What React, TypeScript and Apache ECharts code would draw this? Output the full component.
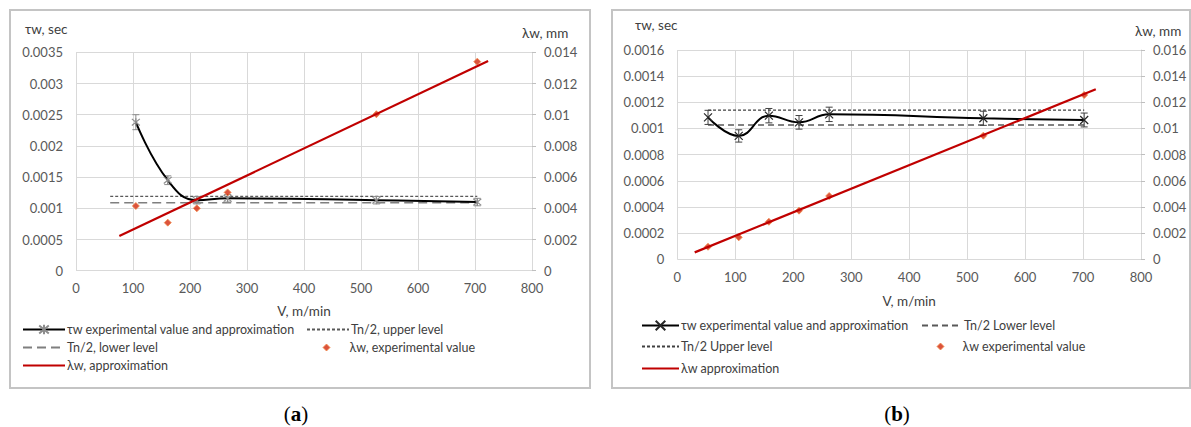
import React, { useEffect, useRef } from "react";
import * as echarts from "echarts";

const FONT = "Lato";

// ---------- Panel (a) data ----------
const aTauV = [105, 161, 212, 266, 527, 704];
const aTau = [0.00238, 0.00145, 0.00113, 0.00116, 0.00113, 0.0011];
const aTauErr = [0.00012, 0.00007, 0.00006, 0.00006, 0.00006, 0.00006];
const aLevelV = [60, 704];
const aUpper = [0.00119, 0.00119];
const aLower = [0.00109, 0.00109];
const aLamV = [105, 161, 212, 266, 527, 704];
const aLam = [0.00415, 0.00308, 0.004, 0.00502, 0.01003, 0.0134];
const aFitV = [76, 723];
const aFit = [0.00222, 0.01344];

// ---------- Panel (b) data ----------
const bTauV = [53, 106, 158, 210, 262, 528, 702];
const bTau = [0.001085, 0.000943, 0.001098, 0.001047, 0.001108, 0.001078, 0.001065];
const bTauErr = [0.000054, 0.000047, 0.000055, 0.000052, 0.000055, 0.000054, 0.000053];
const bLevelV = [53, 702];
const bUpper = [0.001141, 0.001141];
const bLower = [0.001027, 0.001027];
const bLamV = [53, 106, 158, 210, 262, 528, 702];
const bLam = [0.00096, 0.00168, 0.00287, 0.00372, 0.00484, 0.00945, 0.01256];
const bFitV = [30, 722];
const bFit = [0.00053, 0.013];

const zip = (xs: number[], ys: number[]) => xs.map((x, i) => [x, ys[i]]);
const fmt = (v: number) => (v === 0 ? "0" : String(+v.toFixed(6)));

const STAR = "path://M0,0L10,10M10,0L0,10M5,-1L5,11";
const CROSS = "path://M0,0L10,10M10,0L0,10";
const CLEAR = "rgba(0,0,0,0)";
const DIAMOND_FILL = "#d2280c";
const DIAMOND_BORDER = "#f28a4a";

function errSeries(vs: number[], ys: number[], errs: number[], color: string, cap: number) {
  return {
    type: "custom",
    name: "error",
    silent: true,
    z: 3,
    data: vs.map((v, i) => [v, ys[i] - errs[i], ys[i] + errs[i]]),
    encode: { x: 0, y: [1, 2] },
    renderItem: (params: any, api: any) => {
      const lo = api.coord([api.value(0), api.value(1)]);
      const hi = api.coord([api.value(0), api.value(2)]);
      const st = { stroke: color, lineWidth: 1 };
      return {
        type: "group",
        children: [
          { type: "line", shape: { x1: lo[0], y1: lo[1], x2: hi[0], y2: hi[1] }, style: st },
          { type: "line", shape: { x1: lo[0] - cap, y1: lo[1], x2: lo[0] + cap, y2: lo[1] }, style: st },
          { type: "line", shape: { x1: hi[0] - cap, y1: hi[1], x2: hi[0] + cap, y2: hi[1] }, style: st },
        ],
      };
    },
  };
}

const LEG_TEXT = { fontFamily: FONT, fontSize: 12.5, color: "#404040" };

function legendItem(name: string, left: number, cy: number, w: number) {
  return {
    data: [name],
    left,
    top: cy - 8,
    padding: 0,
    itemWidth: w,
    itemHeight: 12,
    itemGap: 0,
    selectedMode: false,
    textStyle: { ...LEG_TEXT, padding: [0, 0, 0, -3] },
  };
}

// diamond legend: small centred marker, text pushed to column text position
function legendDiamond(name: string, cx: number, textX: number, cy: number) {
  const s = 7;
  const left = cx - s / 2;
  return {
    data: [
      {
        name,
        icon: "diamond",
        itemStyle: { color: DIAMOND_FILL, borderColor: DIAMOND_BORDER, borderWidth: 1 },
      },
    ],
    left,
    top: cy - 8,
    padding: 0,
    itemWidth: s,
    itemHeight: s,
    itemGap: 0,
    selectedMode: false,
    textStyle: { ...LEG_TEXT, padding: [0, 0, 0, textX - (left + s + 5)] },
  };
}

type Cfg = {
  grid: any;
  yMax: number;
  yInt: number;
  y2Max: number;
  y2Int: number;
  nameGap: number;
  names: string[];
  tauV: number[];
  tau: number[];
  tauErr: number[];
  marker: string;
  markerColor: string;
  errColor: string;
  levelV: number[];
  upper: number[];
  lower: number[];
  upperStyle: any;
  lowerStyle: any;
  lamV: number[];
  lam: number[];
  fitV: number[];
  fit: number[];
  legends: any[];
  border: number[];
  yName1: number[];
  yName2: number[];
  label: string;
  labelX: number;
};

function makeOption(c: Cfg) {
  const axisLabel = { color: "#595959", fontSize: 13, fontFamily: FONT };
  return {
    animation: false,
    backgroundColor: "#ffffff",
    textStyle: { fontFamily: FONT },
    grid: { ...c.grid, containLabel: false, outerBoundsMode: "none" },
    xAxis: {
      type: "value",
      min: 0,
      max: 800,
      interval: 100,
      name: "V, m/min",
      nameLocation: "middle",
      nameGap: c.nameGap,
      nameTextStyle: { fontFamily: FONT, fontSize: 13.5, color: "#404040" },
      axisLine: { show: false },
      axisTick: { show: false },
      axisLabel: { ...axisLabel, margin: 11 },
      splitLine: { show: true, lineStyle: { color: "#d9d9d9", width: 1 } },
    },
    yAxis: [
      {
        type: "value",
        min: 0,
        max: c.yMax,
        interval: c.yInt,
        axisLine: { show: false },
        axisTick: { show: false },
        axisLabel: { ...axisLabel, margin: 13, formatter: fmt },
        splitLine: { show: true, lineStyle: { color: "#d9d9d9", width: 1 } },
      },
      {
        type: "value",
        position: "right",
        min: 0,
        max: c.y2Max,
        interval: c.y2Int,
        axisLine: { show: true, lineStyle: { color: "#d9d9d9", width: 1 } },
        axisTick: { show: true, length: 4, lineStyle: { color: "#bfbfbf" } },
        axisLabel: { ...axisLabel, margin: 12, formatter: fmt },
        splitLine: { show: false },
      },
    ],
    legend: c.legends,
    graphic: [
      {
        type: "rect",
        shape: { x: c.border[0], y: c.border[1], width: c.border[2], height: c.border[3] },
        style: { fill: "none", stroke: "#c4c4c4", lineWidth: 2 },
        silent: true,
      },
      {
        type: "text",
        x: c.yName1[0],
        y: c.yName1[1],
        style: { text: "τw, sec", fontFamily: FONT, fontSize: 13.5, fill: "#404040", verticalAlign: "middle" },
      },
      {
        type: "text",
        x: c.yName2[0],
        y: c.yName2[1],
        style: { text: "λw, mm", fontFamily: FONT, fontSize: 13.5, fill: "#404040", verticalAlign: "middle" },
      },
      {
        type: "text",
        x: c.labelX,
        y: 414,
        style: {
          text: "{p|(}{b|" + c.label + "}{p|)}",
          align: "center",
          verticalAlign: "middle",
          rich: {
            p: { fontFamily: "Liberation Serif", fontSize: 21, fill: "#000" },
            b: { fontFamily: "Liberation Serif", fontSize: 21, fontWeight: "bold", fill: "#000" },
          },
        },
      },
    ],
    series: [
      errSeries(c.tauV, c.tau, c.tauErr, c.errColor, 3.5),
      {
        type: "line",
        name: c.names[0],
        data: zip(c.tauV, c.tau),
        smooth: 0.45,
        symbol: c.marker,
        symbolSize: 8,
        showSymbol: true,
        itemStyle: { color: c.markerColor, borderColor: c.markerColor, borderWidth: 1.2 },
        lineStyle: { color: "#000000", width: 2 },
        z: 4,
      },
      {
        type: "line",
        name: c.names[1],
        data: zip(c.levelV, c.upper),
        symbol: "circle",
        showSymbol: false,
        lineStyle: c.upperStyle,
        itemStyle: { color: CLEAR, borderColor: CLEAR, borderWidth: 0 },
        z: 2,
      },
      {
        type: "line",
        name: c.names[2],
        data: zip(c.levelV, c.lower),
        symbol: "circle",
        showSymbol: false,
        lineStyle: c.lowerStyle,
        itemStyle: { color: CLEAR, borderColor: CLEAR, borderWidth: 0 },
        z: 2,
      },
      {
        type: "scatter",
        name: c.names[3],
        yAxisIndex: 1,
        data: zip(c.lamV, c.lam),
        symbol: "diamond",
        symbolSize: 7,
        itemStyle: { color: DIAMOND_FILL, borderColor: DIAMOND_BORDER, borderWidth: 1 },
        z: 5,
      },
      {
        type: "line",
        name: c.names[4],
        yAxisIndex: 1,
        data: zip(c.fitV, c.fit),
        symbol: "circle",
        showSymbol: false,
        lineStyle: { color: "#c00000", width: 2.2 },
        itemStyle: { color: CLEAR, borderColor: CLEAR, borderWidth: 0 },
        z: 6,
      },
    ],
  };
}

const aNames = [
  "τw experimental value and approximation",
  "Tn/2, upper level",
  "Tn/2, lower level",
  "λw, experimental value",
  "λw, approximation",
];
const bNames = [
  "τw experimental value and approximation",
  "Tn/2 Upper level",
  "Tn/2 Lower level",
  "λw experimental value",
  "λw approximation",
];

const optionA = makeOption({
  grid: { left: 76, right: 68, top: 52.3, bottom: 156.3 },
  yMax: 0.0035,
  yInt: 0.0005,
  y2Max: 0.014,
  y2Int: 0.002,
  nameGap: 33,
  names: aNames,
  tauV: aTauV,
  tau: aTau,
  tauErr: aTauErr,
  marker: STAR,
  markerColor: "#8c8c8c",
  errColor: "#8c8c8c",
  levelV: aLevelV,
  upper: aUpper,
  lower: aLower,
  upperStyle: { color: "#595959", width: 1.2, type: [3, 2] },
  lowerStyle: { color: "#7f7f7f", width: 1.5, type: [9, 5] },
  lamV: aLamV,
  lam: aLam,
  fitV: aFitV,
  fit: aFit,
  legends: [
    legendItem(aNames[0], 22, 331, 42),
    legendItem(aNames[1], 306, 331, 42),
    legendItem(aNames[2], 22, 349, 42),
    legendDiamond(aNames[3], 326, 349, 349),
    legendItem(aNames[4], 22, 367, 42),
  ],
  border: [10, 10, 580, 378],
  yName1: [25, 29],
  yName2: [522, 33],
  label: "a",
  labelX: 296,
});

const optionB = makeOption({
  grid: { left: 77.3, right: 50, top: 50, bottom: 167.7 },
  yMax: 0.0016,
  yInt: 0.0002,
  y2Max: 0.016,
  y2Int: 0.002,
  nameGap: 35,
  names: bNames,
  tauV: bTauV,
  tau: bTau,
  tauErr: bTauErr,
  marker: CROSS,
  markerColor: "#262626",
  errColor: "#404040",
  levelV: bLevelV,
  upper: bUpper,
  lower: bLower,
  upperStyle: { color: "#404040", width: 1.2, type: [3, 2] },
  lowerStyle: { color: "#595959", width: 1.5, type: [6, 4] },
  lamV: bLamV,
  lam: bLam,
  fitV: bFitV,
  fit: bFit,
  legends: [
    legendItem(bNames[0], 41, 327, 37),
    legendItem(bNames[2], 321, 327, 40),
    legendItem(bNames[1], 41, 348, 37),
    legendDiamond(bNames[3], 340, 362, 348),
    legendItem(bNames[4], 41, 370, 37),
  ],
  border: [12, 10, 578, 378],
  yName1: [35, 25],
  yName2: [535, 31],
  label: "b",
  labelX: 297,
});

function Panel({ option, left, width }: { option: any; left: number; width: number }) {
  const ref = useRef<HTMLDivElement>(null);
  useEffect(() => {
    if (!ref.current) return;
    const chart = echarts.init(ref.current, null, { renderer: "svg" });
    chart.setOption(option);
    return () => chart.dispose();
  }, [option]);
  return <div ref={ref} style={{ position: "absolute", left, top: 0, width, height: 427 }} />;
}

export default function App() {
  return (
    <div style={{ position: "absolute", left: 0, top: 0, width: 1191, height: 427, background: "#fff" }}>
      <Panel option={optionA} left={0} width={600} />
      <Panel option={optionB} left={600} width={591} />
    </div>
  );
}
